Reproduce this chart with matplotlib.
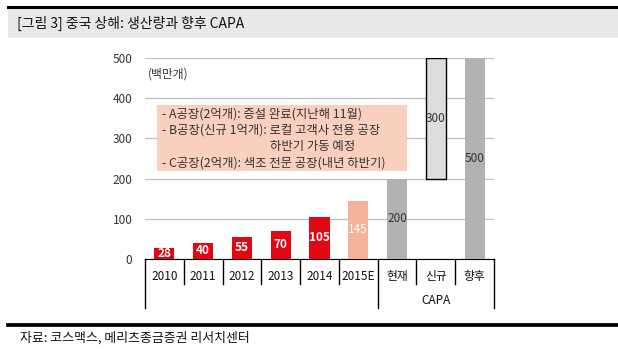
import matplotlib.pyplot as plt
from matplotlib.patches import Rectangle
from matplotlib.transforms import blended_transform_factory

plt.rcParams['font.family'] = ['Noto Sans CJK KR', 'DejaVu Sans']

# data
years = ['2010', '2011', '2012', '2013', '2014', '2015E']
production = [28, 40, 55, 70, 105, 145]
capa_labels = ['현재', '신규', '향후']
capa_now = 200
capa_new = 300
capa_future = 500
notes = ['- A공장(2억개): 증설 완료(지난해 11월)',
         '- B공장(신규 1억개): 로컬 고객사 전용 공장',
         '하반기 가동 예정',
         '- C공장(2억개): 색조 전문 공장(내년 하반기)']

red = '#E30613'
salmon = '#F4B29B'
gray = '#B2B2B2'
light = '#DDDDDD'
txt = '#333333'

fig = plt.figure(figsize=(6.18, 3.49), dpi=100)

# header band and rules
fig.add_artist(Rectangle((8/618, 1-38/349), 1-8/618, 30/349, transform=fig.transFigure,
                         facecolor='#E8E8E8', edgecolor='none'))
fig.add_artist(plt.Line2D([8/618, 1], [1-7/349, 1-7/349], color='black', lw=2.2))
fig.add_artist(plt.Line2D([8/618, 1], [1-325/349, 1-325/349], color='black', lw=2.7))
fig.text(17/618, 1-23/349, '[그림 3] 중국 상해: 생산량과 향후 CAPA', fontsize=10, va='center', color='#111111')
fig.text(20/618, 1-338/349, '자료: 코스맥스, 메리츠종금증권 리서치센터', fontsize=9.3, va='center', color='#111111')

ax = fig.add_axes([145/618, 1-259/349, 349/618, 201/349])
cats = years + capa_labels
x = list(range(len(cats)))
w = 0.52

ax.bar(x[:5], production[:5], width=w, color=red, zorder=3)
ax.bar(x[5], production[5], width=w, color=salmon, zorder=3)
ax.bar(x[6], capa_now, width=w, color=gray, zorder=3)
ax.bar(x[7], capa_new, bottom=capa_now, width=w, color=light, edgecolor='black', lw=1, zorder=3)
ax.bar(x[8], capa_future, width=w, color=gray, zorder=3)

for i, v in enumerate(production):
    ax.text(x[i], v / 2, str(v), ha='center', va='center', color='white', fontsize=8.5,
            fontweight='bold' if i < 5 else 'normal', zorder=4)
ax.text(x[6], capa_now / 2, str(capa_now), ha='center', va='center', color=txt, fontsize=8.5, zorder=4)
ax.text(x[7], capa_now + capa_new / 2, str(capa_new), ha='center', va='center', color=txt, fontsize=8.5, zorder=4)
ax.text(x[8], capa_future / 2, str(capa_future), ha='center', va='center', color=txt, fontsize=8.5, zorder=4)

ax.set_xlim(-0.5, len(cats) - 0.5)
ax.set_ylim(0, 500)
ax.set_yticks([0, 100, 200, 300, 400, 500])
ax.yaxis.grid(True, color='#BFBFBF', lw=0.9, zorder=0)
ax.tick_params(axis='y', length=0, pad=9, labelsize=8.5, labelcolor=txt)
ax.set_xticks(x)
ax.set_xticklabels(cats, fontsize=8.5, color='#111111')
ax.tick_params(axis='x', length=0, pad=8)
for s in ['top', 'right', 'left']:
    ax.spines[s].set_visible(False)
ax.spines['bottom'].set_color('black')

# category separators
tr = blended_transform_factory(ax.transData, ax.transAxes)
for b in [0.5, 1.5, 2.5, 3.5, 4.5, 6.5, 7.5]:
    ax.plot([b, b], [0, -0.124], color='black', lw=1, transform=tr, clip_on=False)
for b in [-0.5, 5.5, 8.5]:
    ax.plot([b, b], [0, -0.244], color='black', lw=1, transform=tr, clip_on=False)
ax.text(7, -0.205, 'CAPA', transform=tr, ha='center', va='center', fontsize=8.5, color='#111111')

# unit and note box
ax.text(-0.42, 460, '(백만개)', ha='left', va='center', fontsize=8.5, color=txt)
ax.add_patch(Rectangle((-0.19, 219), 6.45, 164, facecolor='#F9D0BE', edgecolor='none', zorder=2))
ys = [361, 321, 281, 239]
xs = [-0.06, -0.06, 2.72, -0.06]
for t, xx, yy in zip(notes, xs, ys):
    ax.text(xx, yy, t, ha='left', va='center', fontsize=8.9, color=txt, zorder=3)

fig.savefig('out.png', dpi=100)
